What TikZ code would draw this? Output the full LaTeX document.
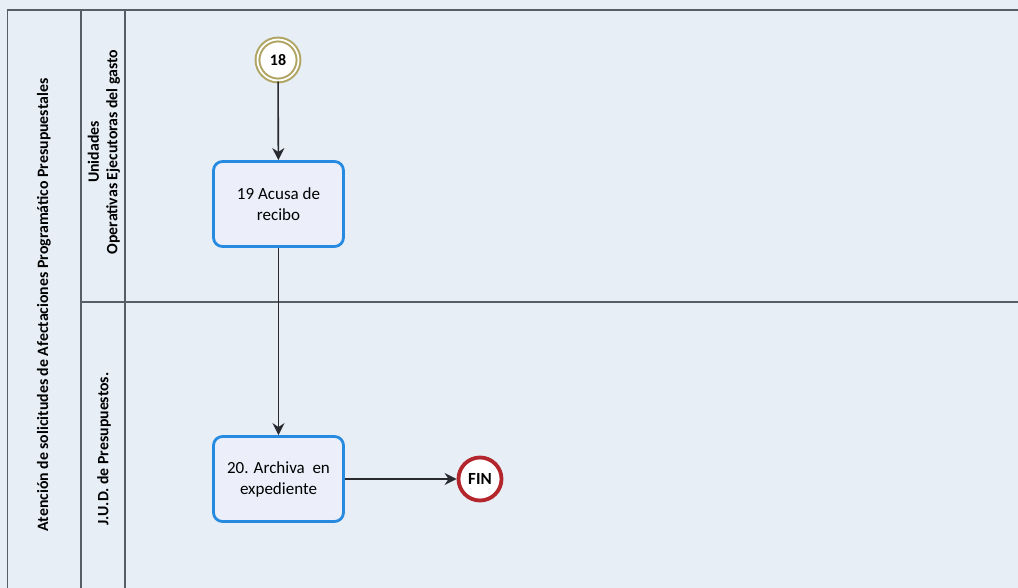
\documentclass[tikz,border=0pt]{standalone}
\usepackage{fontspec}
\setmainfont{Carlito}
\usetikzlibrary{arrows.meta}
\definecolor{paper}{RGB}{231,238,246}
\definecolor{laneline}{RGB}{88,94,102}
\definecolor{taskblue}{RGB}{38,138,224}
\definecolor{taskfill}{RGB}{236,239,250}
\definecolor{startring}{RGB}{176,164,98}
\definecolor{endring}{RGB}{178,38,44}
\definecolor{flowgray}{RGB}{40,42,48}

\begin{document}
\begin{tikzpicture}[x=1pt,y=-1pt,
  lane/.style={draw=laneline,line width=1.4pt},
  lanelabel/.style={rotate=90,align=center,font=\bfseries\fontsize{15.8}{18.5}\selectfont},
  task/.style={draw=taskblue,line width=2.8pt,fill=taskfill,rounded corners=9pt,
    minimum width=130pt,minimum height=85pt,align=center,
    font=\fontsize{17}{21}\selectfont},
  startevt/.style={circle,draw=startring,line width=2pt,double=white,
    double distance=1.8pt,fill=white,minimum size=41pt,inner sep=0pt,
    font=\bfseries\fontsize{16}{18}\selectfont},
  endevt/.style={circle,draw=endring,line width=3.8pt,fill=white,
    minimum size=43pt,inner sep=0pt,font=\bfseries\fontsize{17}{19}\selectfont},
  flow/.style={draw=flowgray,line width=1.6pt,-{Stealth[length=12pt,width=12pt]}}]
  \useasboundingbox[fill=paper] (0,0) rectangle (1018,588);
  \draw[lane] (7.5,596) |- (1018,10);
  \draw[lane] (81,10) -- (81,596);
  \draw[lane] (125,10) -- (125,596);
  \draw[lane] (81,302) -- (1018,302);
  \node[lanelabel] (pooltitle) at (44,305) {Atención de solicitudes de Afectaciones Programático Presupuestales};
  \node[lanelabel] (laneA) at (104,152) {Unidades\\Operativas Ejecutoras del gasto};
  \node[lanelabel] (laneB) at (104,449) {J.U.D. de Presupuestos.};
  \node[startevt] (start) at (278,60) {18};
  \node[task] (acusa) at (278.5,204) {19 Acusa de\\recibo};
  \node[task] (archiva) at (278.5,479) {20. Archiva\ \ en\\expediente};
  \node[endevt] (fin) at (480,479) {FIN};
  \draw[flow] (start) -- (acusa);
  \draw[flow] (acusa) -- (archiva);
  \draw[flow] (archiva) -- (fin);
\end{tikzpicture}
\end{document}
